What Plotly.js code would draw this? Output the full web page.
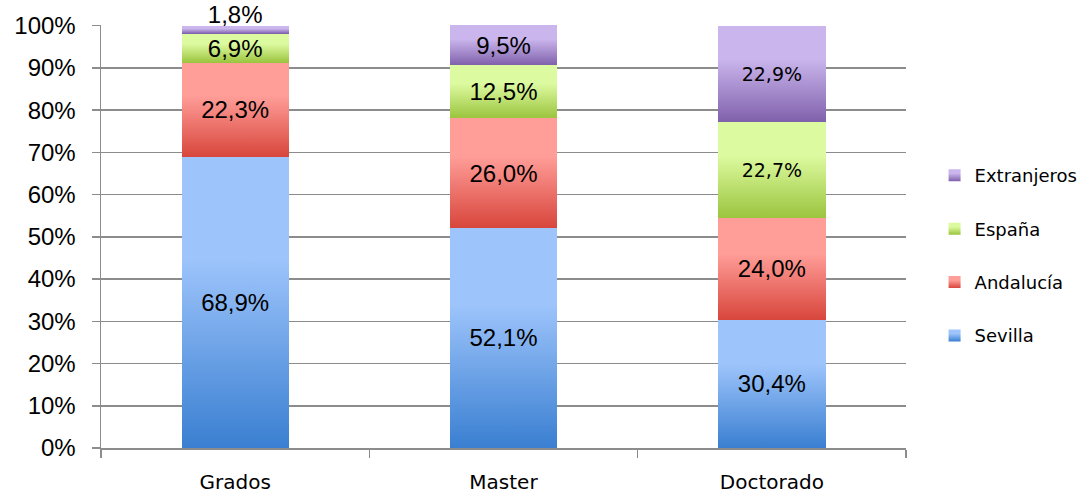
<!DOCTYPE html>
<html>
<head>
<meta charset="utf-8">
<script src="https://cdn.plot.ly/plotly-3.0.1.min.js"></script>
<style>body{margin:0;padding:0;background:#fff}#chart{width:1084px;height:497px}</style>
</head>
<body>
<div id="chart"></div>
<script>
const categories = ['Grados', 'Master', 'Doctorado'];
const sevilla = [68.9, 52.1, 30.4];
const andalucia = [22.3, 26.0, 24.0];
const espana = [6.9, 12.5, 22.7];
const extranjeros = [1.8, 9.5, 22.9];
const seriesNames = ['Sevilla', 'Andalucía', 'España', 'Extranjeros'];
const yTicks = [0, 10, 20, 30, 40, 50, 60, 70, 80, 90, 100];
const yTickLabels = ['0%', '10%', '20%', '30%', '40%', '50%', '60%', '70%', '80%', '90%', '100%'];

const gradients = [
  ['#9dc4fb', '#3a7fd1'],
  ['#ff9d98', '#d8463c'],
  ['#dcfa9f', '#9bc43e'],
  ['#cab5ec', '#7f60ab']
];
const mids = ['#6ba1e6', '#ec716a', '#bcdf6f', '#a48bcc'];

const ARIAL = 'Liberation Sans, Arial, sans-serif';
const NARROW = 'DejaVu Sans';
const TPL = '%{y:.1f}%';

function mk(name, vals, i, fams, sizes, tpl) {
  return {
    type: 'bar', name: name, x: categories, y: vals,
    legendgroup: 'g' + i,
    legendrank: 10 - i,
    marker: {color: mids[i], line: {width: 0}},
    texttemplate: tpl || TPL,
    textposition: 'inside',
    insidetextanchor: 'middle',
    textangle: 0,
    constraintext: 'none',
    cliponaxis: false,
    textfont: {family: fams, size: sizes, color: '#000'},
    hoverinfo: 'skip'
  };
}
const famStd = [ARIAL, ARIAL, NARROW];
const sizeStd = [24, 24, 19];
const data = [
  mk(seriesNames[0], sevilla, 0, [ARIAL, ARIAL, ARIAL], [24, 24, 24]),
  mk(seriesNames[1], andalucia, 1, [ARIAL, ARIAL, ARIAL], [24, 24, 24]),
  mk(seriesNames[2], espana, 2, famStd, sizeStd),
  mk(seriesNames[3], extranjeros, 3, famStd, sizeStd,
     [TPL + '<br>&nbsp;', TPL, TPL])
];

const layout = {
  width: 1084, height: 497,
  margin: {l: 101, r: 178, t: 25, b: 49, autoexpand: false},
  barmode: 'stack',
  bargap: 0.6,
  separators: ',.',
  paper_bgcolor: '#fff', plot_bgcolor: '#fff',
  showlegend: true,
  legend: {
    x: 1.0355, xanchor: 'left', y: 0.455, yanchor: 'middle',
    traceorder: 'grouped', tracegroupgap: 27,
    font: {family: NARROW, size: 18, color: '#000'},
    itemwidth: 30
  },
  xaxis: {
    type: 'category',
    showline: true, linecolor: '#8c8c8c', linewidth: 1.5,
    ticks: 'outside', tickson: 'boundaries', ticklen: 8, tickcolor: '#8c8c8c', tickwidth: 1.5,
    tickfont: {family: NARROW, size: 20, color: '#000'},
    ticklabelstandoff: 15,
    showgrid: false, zeroline: false
  },
  yaxis: {
    range: [0, 100.15], tickmode: 'array', tickvals: yTicks, ticktext: yTickLabels,
    showline: true, linecolor: '#8c8c8c', linewidth: 1.5,
    ticks: 'outside', ticklen: 8, tickcolor: '#8c8c8c', tickwidth: 1.5,
    ticklabelstandoff: 11,
    showgrid: true, gridcolor: '#8c8c8c', gridwidth: 1.5,
    zeroline: false,
    tickfont: {family: ARIAL, size: 24, color: '#000'}
  }
};

function applyGradients(gd) {
  const svg = gd.querySelector('svg.main-svg');
  if (!svg) return;
  let defs = svg.querySelector('defs#custgrad');
  if (!defs) {
    defs = document.createElementNS('http://www.w3.org/2000/svg', 'defs');
    defs.id = 'custgrad';
    gradients.forEach((g, i) => {
      const lg = document.createElementNS('http://www.w3.org/2000/svg', 'linearGradient');
      lg.setAttribute('id', 'cg' + i);
      lg.setAttribute('x1', '0'); lg.setAttribute('y1', '0');
      lg.setAttribute('x2', '0'); lg.setAttribute('y2', '1');
      [[0, g[0]], [0.35, g[0]], [1, g[1]]].forEach(([o, c]) => {
        const st = document.createElementNS('http://www.w3.org/2000/svg', 'stop');
        st.setAttribute('offset', o); st.setAttribute('stop-color', c);
        lg.appendChild(st);
      });
      defs.appendChild(lg);
    });
    svg.insertBefore(defs, svg.firstChild);
  }
  gd.querySelectorAll('g.barlayer g.trace').forEach((t, i) => {
    t.querySelectorAll('g.point path').forEach(p => { p.style.fill = 'url(#cg' + i + ')'; });
  });
  gd.querySelectorAll('g.legend g.traces').forEach(t => {
    const name = t.querySelector('text.legendtext').textContent;
    const i = seriesNames.indexOf(name);
    t.querySelectorAll('g.legendpoints path').forEach(p => { p.style.fill = 'url(#cg' + i + ')'; });
  });
}

Plotly.newPlot('chart', data, layout, {displayModeBar: false, staticPlot: true}).then(gd => {
  applyGradients(gd);
  gd.on('plotly_afterplot', () => applyGradients(gd));
});
</script>
</body>
</html>
